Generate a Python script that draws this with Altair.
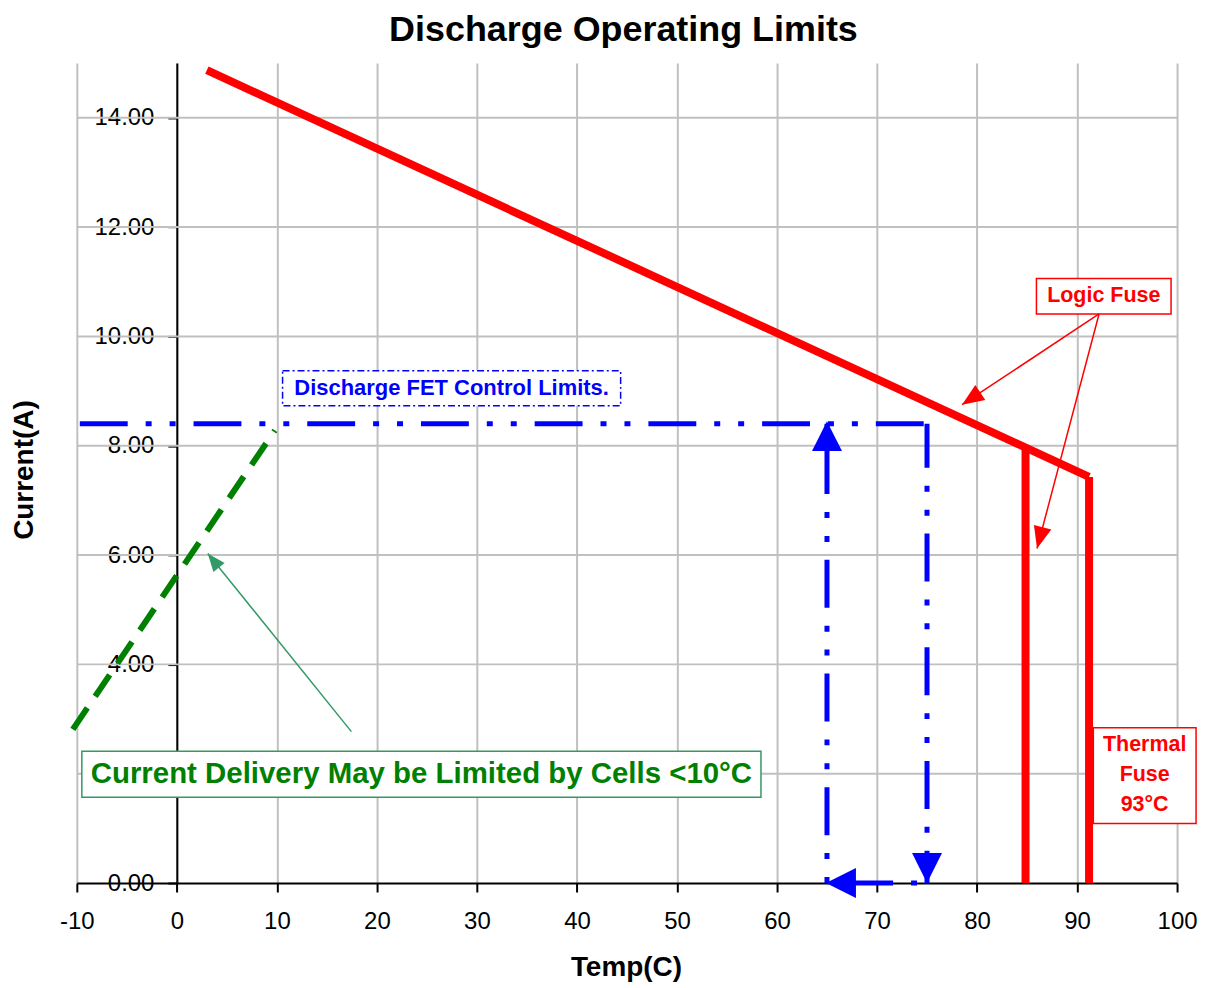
import math
import altair as alt
import pandas as pd

# ---------------- data ----------------
W, H = 1103, 822
X_DOMAIN = [-10, 100]
Y_DOMAIN = [0, 15]

x_ticks = [-10, 0, 10, 20, 30, 40, 50, 60, 70, 80, 90, 100]
y_ticks = [0, 2, 4, 6, 8, 10, 12, 14]
grid_y = [2, 4, 6, 8, 10, 12, 14]

# logic fuse limit (red)
red_T = [3.0, 91.2]
red_I = [14.87, 7.43]
fuse85_T = [84.85, 84.85]
fuse85_I = [0.0, 7.96]
fuse91_T = [91.2, 91.2]
fuse91_I = [0.0, 7.43]

# discharge FET control limits (blue)
fet_T = [-9.7, 75.0]
fet_I = [8.4, 8.4]
fet_down_T = [75.0, 75.0]
fet_down_I = [8.4, 0.0]
fet_back_T = [75.0, 65.0]
fet_back_I = [0.0, 0.0]
fet_up_T = [65.0, 65.0]
fet_up_I = [0.0, 8.4]
blue_heads_T = [65.0, 75.0, 64.9]
blue_heads_I = [8.45, 0.0, 0.0]
blue_heads_dir = [0, 180, 270]

# cell temperature limit (green)
green_T = [-10.4, 9.8]
green_I = [2.81, 8.28]

# annotations
red_arrow_start = [(92.2, 10.41), (92.2, 10.41)]
red_arrow_tip = [(78.5, 8.75), (86.0, 6.12)]
green_arrow_start = [(17.45, 2.77)]
green_arrow_tip = [(3.09, 6.03)]

boxes = [
    # x, x2, y, y2, stroke, text, tx, ty (first line), text color, font size
    dict(x=-9.5, x2=58.4, y=1.57, y2=2.41, stroke="#339966",
         text="Current Delivery May be Limited by Cells <10°C", tx=24.45, ty=1.99,
         tc="#008000", fs=29.5),
    dict(x=10.57, x2=44.37, y=8.73, y2=9.37, stroke="#0000FF",
         text="Discharge FET Control Limits.", tx=27.47, ty=9.05, tc="#0000FF", fs=22),
    dict(x=85.94, x2=99.4, y=10.41, y2=11.06, stroke="#FF0000",
         text="Logic Fuse", tx=92.67, ty=10.74, tc="#FF0000", fs=21.5),
    dict(x=91.63, x2=101.9, y=1.09, y2=2.84, stroke="#FF0000",
         text="Thermal\nFuse\n93°C", tx=96.76, ty=2.53, tc="#FF0000", fs=21.5),
]

title_text = "Discharge Operating Limits"
x_title = "Temp(C)"
y_title = "Current(A)"

FONT = "Liberation Sans"

# ---------------- helpers ----------------
xs = alt.Scale(domain=X_DOMAIN, nice=False, zero=False)
ys = alt.Scale(domain=Y_DOMAIN, nice=False, zero=False)

x_axis = alt.Axis(values=x_ticks, grid=True, gridColor="#C0C0C0", gridWidth=2,
                  labelExpr="'' + datum.value",
                  domainColor="black", domainWidth=2, tickColor="black", tickWidth=2,
                  tickSize=9, labelFont=FONT, labelFontSize=24, labelColor="black",
                  labelPadding=18, labelFlush=False, labelOverlap=False, title=None)
y_axis = alt.Axis(values=y_ticks, grid=False, format=".2f",
                  offset=-W * (0 - X_DOMAIN[0]) / (X_DOMAIN[1] - X_DOMAIN[0]),
                  domainColor="black", domainWidth=2, tickColor="black", tickWidth=2,
                  tickSize=9, labelFont=FONT, labelFontSize=24, labelColor="black",
                  labelPadding=14, labelFlush=False, labelOverlap=False, title=None)


def X(field="T"):
    return alt.X(f"{field}:Q", scale=xs, axis=x_axis)


def Y(field="I"):
    return alt.Y(f"{field}:Q", scale=ys, axis=y_axis)


def to_px(t, i):
    return ((t - X_DOMAIN[0]) / (X_DOMAIN[1] - X_DOMAIN[0]) * W,
            (Y_DOMAIN[1] - i) / (Y_DOMAIN[1] - Y_DOMAIN[0]) * H)


def heading(start, tip):
    x0, y0 = to_px(*start)
    x1, y1 = to_px(*tip)
    return math.degrees(math.atan2(x1 - x0, -(y1 - y0))) % 360


def line_layer(tv, iv, color, width, dash=None, offset=None):
    df = pd.DataFrame({"T": tv, "I": iv, "k": list(range(len(tv)))})
    kw = dict(color=color, strokeWidth=width, strokeCap="butt")
    if dash is not None:
        kw["strokeDash"] = dash
    if offset is not None:
        kw["strokeDashOffset"] = offset
    return alt.Chart(df).mark_line(**kw).encode(x=X(), y=Y(), order="k:Q")


def head_layer(tv, iv, angles, color, size, half):
    df = pd.DataFrame({"T": tv, "I": iv, "a": angles})
    path = f"M0,0L{-half},1L{half},1Z"
    return alt.Chart(df).mark_point(shape=path, filled=True, size=size, color=color,
                                    opacity=1, strokeWidth=0).encode(
        x=X(), y=Y(), angle=alt.Angle("a:Q", scale=None))


def arrow_shafts(starts, tips, color, width):
    df = pd.DataFrame({"T": [s[0] for s in starts], "I": [s[1] for s in starts],
                       "T2": [t[0] for t in tips], "I2": [t[1] for t in tips]})
    return alt.Chart(df).mark_rule(color=color, strokeWidth=width).encode(
        x=X(), y=Y(), x2="T2:Q", y2="I2:Q")


def fixed_text(txt, px, py, size, angle=None):
    kw = dict(font=FONT, fontSize=size, fontWeight="bold", color="black",
              align="center", baseline="middle")
    if angle is not None:
        kw["angle"] = angle
    return alt.Chart(pd.DataFrame({"t": [txt]})).mark_text(**kw).encode(
        x=alt.value(px), y=alt.value(py), text="t:N")


layers = []

# horizontal grid lines
grid_df = pd.DataFrame({"I": grid_y, "T": [X_DOMAIN[0]] * len(grid_y),
                        "T2": [X_DOMAIN[1]] * len(grid_y)})
layers.append(alt.Chart(grid_df).mark_rule(color="#C0C0C0", strokeWidth=2).encode(
    x=X(), x2="T2:Q", y=Y()))

# green cell limit
layers.append(line_layer(green_T, green_I, "#008000", 6, dash=[26, 14]))

# blue FET limit
layers.append(line_layer(fet_T, fet_I, "#0000FF", 5, dash=[48, 18, 6, 18, 6, 18]))
layers.append(line_layer(fet_down_T, fet_down_I, "#0000FF", 5, dash=[48, 18, 6, 18, 6, 18], offset=4))
layers.append(line_layer(fet_up_T, fet_up_I, "#0000FF", 5, dash=[48, 18, 6, 18, 6, 18], offset=66))
layers.append(line_layer(fet_back_T, fet_back_I, "#0000FF", 5, dash=[48, 18, 6, 18, 6, 18], offset=80))
layers.append(head_layer(blue_heads_T, blue_heads_I, blue_heads_dir, "#0000FF", 3600, 0.5))

# red logic fuse
layers.append(line_layer(red_T, red_I, "#FF0000", 8))
layers.append(line_layer(fuse85_T, fuse85_I, "#FF0000", 8))
layers.append(line_layer(fuse91_T, fuse91_I, "#FF0000", 8))

# annotation boxes
for b in boxes:
    bdf = pd.DataFrame([b])
    rect_kw = dict(fill="white", stroke=b["stroke"], strokeWidth=1.5)
    if b["stroke"] == "#0000FF":
        rect_kw["strokeDash"] = [7, 3, 2, 3]
    layers.append(alt.Chart(bdf).mark_rect(**rect_kw).encode(
        x=X("x"), x2="x2:Q", y=Y("y"), y2="y2:Q"))
    layers.append(alt.Chart(bdf).mark_text(
        font=FONT, fontSize=b["fs"], fontWeight="bold", color=b["tc"],
        align="center", baseline="middle", lineBreak="\n", lineHeight=30).encode(
        x=X("tx"), y=Y("ty"), text="text:N"))

# annotation arrows
layers.append(arrow_shafts(red_arrow_start, red_arrow_tip, "#FF0000", 1.5))
layers.append(head_layer([t[0] for t in red_arrow_tip], [t[1] for t in red_arrow_tip],
                         [heading(s, t) for s, t in zip(red_arrow_start, red_arrow_tip)],
                         "#FF0000", 1936, 0.41))
layers.append(arrow_shafts(green_arrow_start, green_arrow_tip, "#339966", 1.5))
layers.append(head_layer([t[0] for t in green_arrow_tip], [t[1] for t in green_arrow_tip],
                         [heading(s, t) for s, t in zip(green_arrow_start, green_arrow_tip)],
                         "#339966", 1296, 0.4))

# titles
layers.append(fixed_text(title_text, 548, -33, 36))
layers.append(fixed_text(x_title, 551, 907, 28))
layers.append(fixed_text(y_title, -52, 408, 28, angle=270))

chart = alt.layer(*layers).properties(
    width=W, height=H,
    padding={"left": 69, "top": 54, "right": 24, "bottom": 100},
    autosize=alt.AutoSizeParams(type="none"),
).configure_view(stroke=None)

chart.save("out.html", embed_options={"renderer": "svg", "actions": False})
